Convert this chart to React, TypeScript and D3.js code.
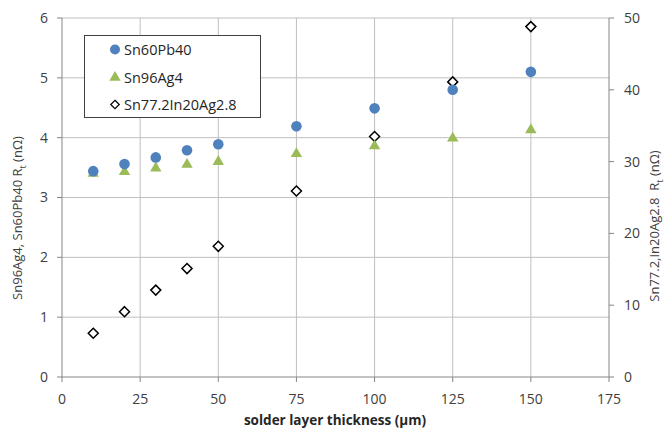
import React from 'react';
import * as d3 from 'd3';

// solder layer thickness (µm)
const thickness = [10, 20, 30, 40, 50, 75, 100, 125, 150];
// left axis, nΩ
const sn60pb40 = [3.44, 3.56, 3.67, 3.79, 3.89, 4.19, 4.49, 4.8, 5.1];
const sn96ag4 = [3.4, 3.43, 3.49, 3.55, 3.6, 3.73, 3.86, 3.99, 4.13];
// right axis, nΩ
const snInAg = [6.1, 9.1, 12.1, 15.1, 18.2, 25.9, 33.5, 41.1, 48.8];

const xTicks = [0, 25, 50, 75, 100, 125, 150, 175];
const yLeftTicks = [0, 1, 2, 3, 4, 5, 6];
const yRightTicks = [0, 10, 20, 30, 40, 50];

const W = 669;
const H = 430;
const m = { left: 62, right: 609, top: 18, bottom: 377 };

const BLUE = '#4f81bd';
const GREEN = '#9bbb59';
const GRID = '#bfbfbf';
const AXIS = '#868686';
const FONT = '"Open Sans", sans-serif';

const App = () => {
  const x = d3.scaleLinear().domain([0, 175]).range([m.left, m.right]);
  const yL = d3.scaleLinear().domain([0, 6]).range([m.bottom, m.top]);
  const yR = d3.scaleLinear().domain([0, 50]).range([m.bottom, m.top]);

  const tri = d3.symbol().type(d3.symbolTriangle).size(56)();
  const diamond = 'M0,-5L5,0L0,5L-5,0Z';

  return (
    <svg width={W} height={H} style={{ position: 'absolute', left: 0, top: 0, background: '#fff' }}>
      <rect width={W} height={H} fill="#fff" />
      {/* grid */}
      {yLeftTicks.slice(1).map((t) => (
        <line key={'hg' + t} x1={m.left} x2={m.right} y1={yL(t)} y2={yL(t)} stroke={GRID} strokeWidth={1} />
      ))}
      {xTicks.slice(1, -1).map((t) => (
        <line key={'vg' + t} x1={x(t)} x2={x(t)} y1={m.top} y2={m.bottom} stroke={GRID} strokeWidth={1} />
      ))}

      {/* axes */}
      <line x1={m.left} x2={m.left} y1={m.top} y2={m.bottom} stroke={AXIS} />
      <line x1={m.right} x2={m.right} y1={m.top} y2={m.bottom} stroke={AXIS} />
      <line x1={m.left} x2={m.right} y1={m.bottom} y2={m.bottom} stroke={AXIS} />
      {yLeftTicks.map((t) => (
        <g key={'yl' + t}>
          <line x1={m.left - 5} x2={m.left} y1={yL(t)} y2={yL(t)} stroke={AXIS} />
          <text x={m.left - 14} y={yL(t)} dy="0.35em" textAnchor="end" fontSize={14} fontFamily={FONT} fill="#404040">
            {t}
          </text>
        </g>
      ))}
      {yRightTicks.map((t) => (
        <g key={'yr' + t}>
          <line x1={m.right} x2={m.right + 5} y1={yR(t)} y2={yR(t)} stroke={AXIS} />
          <text x={m.right + 15} y={yR(t)} dy="0.35em" textAnchor="start" fontSize={14} fontFamily={FONT} fill="#404040">
            {t}
          </text>
        </g>
      ))}
      {xTicks.map((t) => (
        <g key={'x' + t}>
          <line x1={x(t)} x2={x(t)} y1={m.bottom} y2={m.bottom + 5} stroke={AXIS} />
          <text x={x(t)} y={m.bottom + 22} dy="0.35em" textAnchor="middle" fontSize={14} fontFamily={FONT} fill="#404040">
            {t}
          </text>
        </g>
      ))}

      {/* axis titles */}
      <text x={335} y={420} dy="0.35em" textAnchor="middle" fontSize={13.5} fontWeight="bold" fontFamily={FONT} fill="#262626">
        solder layer thickness (µm)
      </text>
      <text transform="translate(22,218) rotate(-90)" textAnchor="middle" fontSize={13} fontFamily={FONT} fill="#404040">
        Sn96Ag4, Sn60Pb40 R<tspan fontSize={9} dy={4}>t</tspan><tspan dy={-4}> (nΩ)</tspan>
      </text>
      <text transform="translate(659,226) rotate(-90)" textAnchor="middle" fontSize={13} fontFamily={FONT} fill="#404040">
        Sn77.2,In20Ag2.8{'\u00a0\u00a0'}R<tspan fontSize={9} dy={4}>t</tspan><tspan dy={-4}> (nΩ)</tspan>
      </text>

      {/* data */}
      {thickness.map((t, i) => (
        <path key={'d' + t} d={diamond} transform={`translate(${x(t)},${yR(snInAg[i])})`} fill="#fff" stroke="#000" strokeWidth={1.5} />
      ))}
      {thickness.map((t, i) => (
        <path key={'t' + t} d={tri as string} transform={`translate(${x(t)},${yL(sn96ag4[i])})`} fill={GREEN} />
      ))}
      {thickness.map((t, i) => (
        <circle key={'c' + t} cx={x(t)} cy={yL(sn60pb40[i])} r={5.3} fill={BLUE} />
      ))}

      {/* legend */}
      <g>
        <rect x={84.5} y={35.5} width={176} height={82} fill="#fff" stroke="#404040" strokeWidth={1} />
        <circle cx={115} cy={49.5} r={5} fill={BLUE} />
        <text x={124} y={49.5} dy="0.35em" fontSize={14.5} fontFamily={FONT} fill="#262626">Sn60Pb40</text>
        <path d={tri as string} transform="translate(115,77.5)" fill={GREEN} />
        <text x={124} y={77.5} dy="0.35em" fontSize={14.5} fontFamily={FONT} fill="#262626">Sn96Ag4</text>
        <path d={diamond} transform="translate(115,104.5) scale(0.85)" fill="#fff" stroke="#000" strokeWidth={1.4} />
        <text x={124} y={104.5} dy="0.35em" fontSize={14.5} fontFamily={FONT} fill="#262626">Sn77.2In20Ag2.8</text>
      </g>
    </svg>
  );
};

export default App;
